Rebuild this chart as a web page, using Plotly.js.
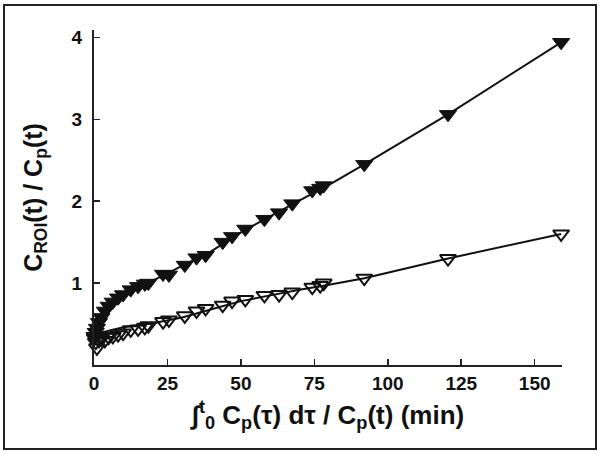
<!DOCTYPE html>
<html>
<head>
<meta charset="utf-8">
<script src="https://cdn.plot.ly/plotly-3.0.1.min.js"></script>
<style>
html,body{margin:0;padding:0;background:#fff;}
#wrap{position:relative;width:600px;height:453px;}
#chart{position:absolute;left:0;top:0;width:600px;height:453px;}
#frame{position:absolute;left:3px;top:4px;width:590px;height:442px;border:2px solid #222;pointer-events:none;}
</style>
</head>
<body>
<div id="wrap"><div id="chart"></div><div id="frame"></div></div>
<script>
// Patlak-style plot data
var xVals = [0.2, 0.6, 1.0, 1.7, 2.5, 3.7, 5.0, 6.4, 8.2, 9.9, 12.5, 15.0, 17.3, 18.5, 23.5, 25.5, 30.9, 34.9, 38.0, 43.8, 47.0, 51.5, 58.0, 63.0, 67.5, 74.3, 77.0, 78.2, 92.0, 120.5, 159.0];
var filledY = [0.35, 0.40, 0.45, 0.52, 0.58, 0.66, 0.72, 0.77, 0.82, 0.86, 0.92, 0.96, 0.99, 1.00, 1.11, 1.10, 1.22, 1.31, 1.34, 1.50, 1.57, 1.66, 1.78, 1.86, 1.97, 2.13, 2.16, 2.19, 2.45, 3.06, 3.94];
var openY = [0.33, 0.28, 0.21, 0.30, 0.32, 0.30, 0.34, 0.35, 0.37, 0.39, 0.43, 0.44, 0.46, 0.48, 0.53, 0.55, 0.60, 0.66, 0.69, 0.73, 0.78, 0.80, 0.85, 0.86, 0.89, 0.95, 0.97, 1.00, 1.06, 1.30, 1.60];
// fitted lines as drawn in the reference
var fitX = [0.2, 2, 5, 10, 20, 30, 40, 50, 60, 70, 80, 92, 120.5, 159];
var filledFit = [0.38, 0.55, 0.71, 0.86, 1.03, 1.21, 1.39, 1.62, 1.82, 2.01, 2.20, 2.45, 3.06, 3.94];
var openFit = [0.36, 0.39, 0.42, 0.46, 0.51, 0.58, 0.68, 0.78, 0.85, 0.92, 0.98, 1.06, 1.30, 1.60];
var xTicks = [0, 25, 50, 75, 100, 125, 150];
var yTicks = [1, 2, 3, 4];

var F = 'Liberation Sans, Arial, Helvetica, sans-serif';
var traces = [
  {x: fitX, y: filledFit, mode: 'lines', line: {color: '#111', width: 2}, hoverinfo: 'skip', cliponaxis: false},
  {x: fitX, y: openFit, mode: 'lines', line: {color: '#111', width: 2}, hoverinfo: 'skip', cliponaxis: false},
  {x: xVals, y: filledY, mode: 'markers', cliponaxis: false,
   marker: {symbol: 'triangle-down', size: 15, color: '#111', line: {color: '#111', width: 1}}},
  {x: xVals, y: openY, mode: 'markers', cliponaxis: false,
   marker: {symbol: 'triangle-down-open', size: 14, color: '#111', line: {color: '#111', width: 2}}}
];
var layout = {
  width: 600, height: 453,
  margin: {l: 94, r: 38, t: 30, b: 88},
  showlegend: false,
  paper_bgcolor: '#fff', plot_bgcolor: '#fff',
  font: {family: F, color: '#111'},
  xaxis: {
    range: [0, 159.3], showgrid: false, zeroline: false,
    showline: true, linecolor: '#222', linewidth: 2,
    ticks: 'inside', ticklen: 6, tickwidth: 1.5, tickcolor: '#222',
    tickvals: xTicks, ticktext: xTicks.map(String),
    tickfont: {family: F, size: 19, weight: 'bold', color: '#111'},
    title: {text: '∫<sup>t</sup><sub>0</sub> C<sub>p</sub>(τ) dτ / C<sub>p</sub>(t) (min)', standoff: 13,
            font: {family: F, size: 26, weight: 'bold', color: '#111'}}
  },
  yaxis: {
    range: [0, 4.09], showgrid: false, zeroline: false,
    showline: true, linecolor: '#222', linewidth: 2,
    ticks: 'inside', ticklen: 6, tickwidth: 1.5, tickcolor: '#222',
    ticklabelstandoff: 6,
    tickvals: yTicks, ticktext: yTicks.map(String),
    tickfont: {family: F, size: 19, weight: 'bold', color: '#111'},
    title: {text: 'C<sub>ROI</sub>(t) / C<sub>p</sub>(t)', standoff: 22,
            font: {family: F, size: 25, weight: 'bold', color: '#111'}}
  }
};
Plotly.newPlot('chart', traces, layout, {staticPlot: true, displayModeBar: false});
</script>
</body>
</html>
